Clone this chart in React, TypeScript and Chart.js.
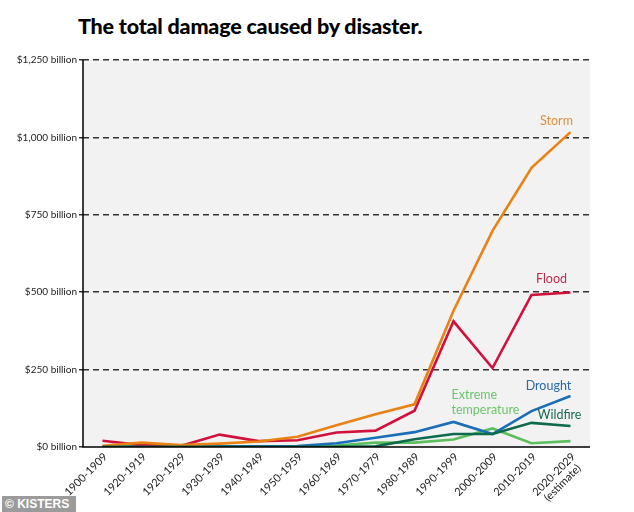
import React, { useEffect, useRef } from "react";
import { Chart, registerables } from "chart.js";

Chart.register(...registerables);

const categories: (string | string[])[] = [
  "1900-1909",
  "1920-1919",
  "1920-1929",
  "1930-1939",
  "1940-1949",
  "1950-1959",
  "1960-1969",
  "1970-1979",
  "1980-1989",
  "1990-1999",
  "2000-2009",
  "2010-2019",
  ["2020-2029", "(estimate)"],
];

const storm = [4, 14, 6, 11, 18, 33, 70, 106, 138, 440, 698, 902, 1017];
const flood = [20, 6, 3, 40, 19, 22, 47, 53, 117, 406, 255, 491, 499];
const drought = [1, 1, 1, 2, 2, 3, 12, 30, 48, 81, 42, 116, 165];
const extremeTemp = [1, 1, 1, 1, 1, 2, 5, 14, 14, 24, 60, 12, 19];
const wildfire = [0.5, 0.5, 0.5, 0.5, 0.5, 0.5, 1, 2, 25, 42, 42, 78, 68];

const yTicks = [0, 250, 500, 750, 1000, 1250];
const yTickLabels = ["$0 billion", "$250 billion", "$500 billion", "$750 billion", "$1,000 billion", "$1,250 billion"];

const FONT = "Lato, 'Open Sans', sans-serif";

type SeriesLabel = { lines: string[]; color: string; idx: number; value: number; dx: number; dy: number; align: CanvasTextAlign };

const seriesLabels: SeriesLabel[] = [
  { lines: ["Storm"], color: "#E28F3A", idx: 12, value: storm[12], dx: -14, dy: -11, align: "center" },
  { lines: ["Flood"], color: "#C22A50", idx: 12, value: flood[12], dx: -19, dy: -14, align: "center" },
  { lines: ["Drought"], color: "#2A6BAA", idx: 12, value: drought[12], dx: -22, dy: -10, align: "center" },
  { lines: ["Wildfire"], color: "#1B6B55", idx: 12, value: wildfire[12], dx: -11, dy: -11, align: "center" },
  { lines: ["Extreme", "temperature"], color: "#6CC36C", idx: 10, value: extremeTemp[10], dx: -41, dy: -33, align: "left" },
];

const bgPlugin = {
  id: "bg",
  beforeDraw(chart: any) {
    const { ctx, chartArea } = chart;
    ctx.save();
    ctx.fillStyle = "#F2F2F2";
    ctx.fillRect(chartArea.left, chartArea.top, chartArea.right - chartArea.left, chartArea.bottom - chartArea.top);
    ctx.restore();
  },
};

const labelPlugin = {
  id: "seriesLabels",
  afterDatasetsDraw(chart: any) {
    const { ctx } = chart;
    const xs = chart.scales.x;
    const ys = chart.scales.y;
    ctx.save();
    ctx.font = `12.5px ${FONT}`;
    ctx.textBaseline = "middle";
    seriesLabels.forEach((l) => {
      const x = xs.getPixelForValue(l.idx) + l.dx;
      const y = ys.getPixelForValue(l.value) + l.dy;
      ctx.fillStyle = l.color;
      ctx.textAlign = l.align;
      l.lines.forEach((line, i) => ctx.fillText(line, x, y + i * 14.5));
    });
    ctx.restore();
  },
};

const axisLinesPlugin = {
  id: "axisLines",
  afterDatasetsDraw(chart: any) {
    const { ctx, chartArea } = chart;
    ctx.save();
    ctx.strokeStyle = "#000";
    ctx.lineWidth = 1.5;
    ctx.setLineDash([]);
    ctx.beginPath();
    ctx.moveTo(chartArea.left, chartArea.top);
    ctx.lineTo(chartArea.left, chartArea.bottom);
    ctx.lineTo(chartArea.right, chartArea.bottom);
    ctx.stroke();
    ctx.restore();
  },
};

const xLabelPlugin = {
  id: "xLabels",
  afterDraw(chart: any) {
    const { ctx, chartArea } = chart;
    const xs = chart.scales.x;
    ctx.save();
    ctx.font = `11px ${FONT}`;
    ctx.fillStyle = "#222";
    ctx.textBaseline = "middle";
    categories.forEach((lab, i) => {
      const lines = Array.isArray(lab) ? lab : [lab];
      const x = xs.getPixelForValue(i) + 3;
      const y = chartArea.bottom + 8;
      ctx.save();
      ctx.translate(x, y);
      ctx.rotate(-Math.PI / 4);
      const w0 = ctx.measureText(lines[0]).width;
      lines.forEach((line, j) => {
        if (j === 0) {
          ctx.textAlign = "right";
          ctx.fillText(line, 0, 0);
        } else {
          ctx.textAlign = "center";
          ctx.fillText(line, -w0 / 2, j * 12);
        }
      });
      ctx.restore();
    });
    ctx.restore();
  },
};

export default function App() {
  const ref = useRef<HTMLCanvasElement | null>(null);

  useEffect(() => {
    if (!ref.current) return;
    const mk = (label: string, data: number[], color: string, order: number) => ({
      label,
      data,
      borderColor: color,
      backgroundColor: color,
      borderWidth: 2.6,
      pointRadius: 0,
      tension: 0,
      order,
    });
    const chart = new Chart(ref.current, {
      type: "line",
      data: {
        labels: categories as any,
        datasets: [
          mk("Wildfire", wildfire, "#0D6A4C", 0),
          mk("Storm", storm, "#EA8213", 1),
          mk("Flood", flood, "#D1103B", 2),
          mk("Drought", drought, "#1A6DB8", 3),
          mk("Extreme temperature", extremeTemp, "#5DBE5D", 4),
        ],
      },
      options: {
        animation: false,
        responsive: false,
        maintainAspectRatio: false,
        layout: { padding: { left: 0, top: 60, right: 44, bottom: 0 } },
        plugins: { legend: { display: false }, tooltip: { enabled: false }, title: { display: false } },
        scales: {
          x: {
            type: "category",
            offset: true,
            grid: { display: false, drawTicks: false },
            border: { display: false },
            ticks: { display: false },
            afterFit(scale: any) {
              scale.height = 65;
            },
          },
          y: {
            min: 0,
            max: 1250,
            afterBuildTicks(scale: any) {
              scale.ticks = yTicks.map((v) => ({ value: v }));
            },
            grid: {
              color: (c: any) => (c.tick && c.tick.value === 0 ? "rgba(0,0,0,0)" : "#333"),
              lineWidth: 1.5,
              tickLength: 4,
              tickColor: "#333",
              drawTicks: true,
            },
            border: { display: false, dash: [6, 4] },
            ticks: {
              color: "#222",
              font: { family: FONT, size: 10 },
              padding: 2,
              callback: (v: any) => {
                const i = yTicks.indexOf(Number(v));
                return i >= 0 ? yTickLabels[i] : "";
              },
            },
            afterFit(scale: any) {
              scale.width = 83;
            },
          },
        },
      } as any,
      plugins: [bgPlugin, labelPlugin, axisLinesPlugin, xLabelPlugin],
    });
    return () => chart.destroy();
  }, []);

  return (
    <div style={{ position: "fixed", left: 0, top: 0, width: 634, height: 512, background: "#fff", overflow: "hidden" }}>
      <div
        style={{
          position: "absolute",
          left: 78,
          top: 13,
          fontFamily: FONT,
          fontWeight: 900,
          fontSize: 21.5,
          color: "#000",
          whiteSpace: "nowrap",
          letterSpacing: -0.2,
        }}
      >
        The total damage caused by disaster.
      </div>
      <canvas ref={ref} width={634} height={512} style={{ position: "absolute", left: 0, top: 0, width: 634, height: 512 }} />
      <div
        style={{
          position: "absolute",
          left: 2,
          top: 496,
          width: 74,
          height: 16,
          background: "#9B9B9B",
          color: "#fff",
          fontFamily: "Arial, 'Liberation Sans', sans-serif",
          fontWeight: 700,
          fontSize: 12,
          lineHeight: "16px",
          paddingLeft: 3,
          boxSizing: "border-box",
        }}
      >
        © KISTERS
      </div>
    </div>
  );
}
